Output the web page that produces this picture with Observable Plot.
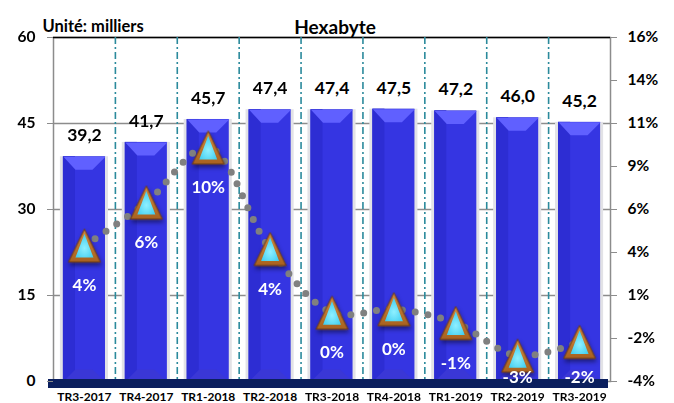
<!DOCTYPE html>
<html><head><meta charset="utf-8">
<script src="https://cdn.jsdelivr.net/npm/d3@7"></script>
<script src="https://cdn.jsdelivr.net/npm/@observablehq/plot@0.6"></script>
<style>html,body{margin:0;padding:0;background:#fff} svg{display:block}</style>
</head><body><div id="chart"></div>
<script>
// ---- data ----
const categories = ["TR3-2017","TR4-2017","TR1-2018","TR2-2018","TR3-2018","TR4-2018","TR1-2019","TR2-2019","TR3-2019"];
const volumes = [39.2, 41.7, 45.7, 47.4, 47.4, 47.5, 47.2, 46.0, 45.2];
const growth = [3.9, 6.4, 9.6, 3.7, 0.0, 0.2, -0.6, -2.5, -1.7];
const growthLabels = ["4%","6%","10%","4%","0%","0%","-1%","-3%","-2%"];
const leftTicks = [0, 15, 30, 45, 60];
const rightTickValues = [-4, -1.5, 1, 3.5, 6, 8.5, 11, 13.5, 16];
const rightTickLabels = ["-4%","-2%","1%","4%","6%","9%","11%","14%","16%"];
const title = "Hexabyte";
const unitLabel = "Unité: milliers";

// ---- layout ----
const W = 674, H = 403;
const mL = 53, mR = 64, mT = 37, mB = 22;
const leftMax = 60, rMin = -4, rMax = 16;
const toLeft = g => (g - rMin) / (rMax - rMin) * leftMax;
const step = (W - mL - mR) / categories.length;
const FONT = "Lato, 'Open Sans', sans-serif";

const rows = categories.map((c, i) => ({
  cat: c, v: volumes[i], g: growth[i], gl: growthLabels[i],
  vl: volumes[i].toFixed(1).replace(".", ",")
}));
const rightMap = new Map(rightTickValues.map((v, i) => [toLeft(v), rightTickLabels[i]]));

// custom symbols (shapes in pixels, positioned by scales)
const bevelTop = {draw(ctx) { ctx.moveTo(-21, 0); ctx.lineTo(21, 0); ctx.lineTo(8, 13); ctx.lineTo(-9, 13); ctx.closePath(); }};
const bevelBottom = {draw(ctx) { ctx.moveTo(-9, -12); ctx.lineTo(8, -12); ctx.lineTo(21, 0); ctx.lineTo(-21, 0); ctx.closePath(); }};
const triOuter = {draw(ctx) { ctx.moveTo(0, -16.5); ctx.lineTo(16, 16.5); ctx.lineTo(-16, 16.5); ctx.closePath(); }};
const triInner = {draw(ctx) { ctx.moveTo(0, -11.5); ctx.lineTo(9, 12); ctx.lineTo(-9, 12); ctx.closePath(); }};

const plot = Plot.plot({
  width: W, height: H,
  marginLeft: mL, marginRight: mR, marginTop: mT, marginBottom: mB,
  style: {fontFamily: FONT, background: "#fff"},
  x: {domain: categories, paddingInner: 0.32, paddingOuter: 0.16, round: false, axis: null},
  y: {domain: [0, leftMax], axis: null},
  marks: [
    Plot.frame({stroke: "#8c8c8c", strokeWidth: 1.5}),
    Plot.ruleY(leftTicks.filter(t => t > 0 && t < leftMax), {stroke: "#8c8c8c", strokeWidth: 1.5}),
    Plot.ruleY([leftMax], {stroke: "#000", strokeWidth: 1.5}),
    Plot.ruleX(categories.slice(0, -1), {dx: step / 2, stroke: "#2b8a9c", strokeWidth: 1.6, strokeDasharray: "7,3,2,3"}),
    // bar side shadow
    Plot.barY(rows, {x: "cat", y: "v", fill: "#e2e2e6", insetLeft: -3, insetRight: -3}),
    // bar body
    Plot.barY(rows, {x: "cat", y: "v", fill: "#3535e2"}),
    Plot.barY(rows, {x: "cat", y: "v", fill: "#2d2dd3", insetRight: 30}),
    Plot.dot(rows, {x: "cat", y: 0, symbol: bevelBottom, fill: "#3a37d6", stroke: "none"}),
    Plot.dot(rows, {x: "cat", y: "v", symbol: bevelTop, fill: "#6060ff", stroke: "none"}),
    // navy base band
    Plot.ruleY([0], {stroke: "#0b1f5e", strokeWidth: 9, dy: 2, insetLeft: -5, insetRight: 2}),
    // growth dotted smooth line
    Plot.line(rows, {x: "cat", y: d => toLeft(d.g), curve: "catmull-rom", stroke: "#808080",
      strokeWidth: 7, strokeDasharray: "0,13", strokeLinecap: "round"}),
    // triangles
    Plot.dot(rows, {x: "cat", y: d => toLeft(d.g), symbol: triOuter, fill: "url(#gradBrown)", stroke: "#6b3a12", strokeWidth: 1}),
    Plot.dot(rows, {x: "cat", y: d => toLeft(d.g), symbol: triInner, fill: "url(#gradCyan)", stroke: "none"}),
    // growth labels
    Plot.text(rows, {x: "cat", y: d => Math.max(toLeft(d.g) - 7, 0.7), text: "gl", fill: "#fff",
      fontSize: 17, fontWeight: "bold", fontFamily: FONT}),
    // value labels
    Plot.text(rows, {x: "cat", y: "v", dy: -21, text: "vl", fill: "#000", fontSize: 17.5, fontWeight: "bold", fontFamily: FONT}),
    // titles
    Plot.text([title], {frameAnchor: "top", text: d => d, dx: 3, dy: -17, fontSize: 19, fontWeight: "bold", fill: "#000", fontFamily: FONT}),
    Plot.text([unitLabel], {frameAnchor: "top-left", text: d => d, textAnchor: "start", dx: -11, dy: -17, fontSize: 16.5, fontWeight: "bold", fill: "#000", fontFamily: FONT}),
    // axes
    Plot.axisY({anchor: "left", ticks: leftTicks, tickSize: 6, tickPadding: 12, stroke: "#8c8c8c", fill: "#000",
      fontSize: 15.5, fontWeight: "bold", label: null, tickFormat: d => String(d)}),
    Plot.axisY({anchor: "right", ticks: rightTickValues.map(toLeft), tickSize: 6, tickPadding: 11, stroke: "#8c8c8c", fill: "#000",
      fontSize: 15.5, fontWeight: "bold", label: null, tickFormat: d => rightMap.get(d)}),
    Plot.axisX({anchor: "bottom", tickSize: 0, tickPadding: 11, fill: "#000", fontSize: 12, fontWeight: "bold", label: null})
  ]
});

document.getElementById("chart").appendChild(plot);

// gradients & shadow
const svg = d3.select(plot);
const defs = svg.insert("defs", ":first-child");
const gb = defs.append("linearGradient").attr("id", "gradBrown").attr("x1", 0).attr("y1", 0).attr("x2", 0).attr("y2", 1);
gb.append("stop").attr("offset", "0%").attr("stop-color", "#d28a3e");
gb.append("stop").attr("offset", "100%").attr("stop-color", "#a8621f");
const gc = defs.append("radialGradient").attr("id", "gradCyan").attr("cx", "50%").attr("cy", "60%").attr("r", "60%");
gc.append("stop").attr("offset", "0%").attr("stop-color", "#8ff0ff");
gc.append("stop").attr("offset", "100%").attr("stop-color", "#3fcdf0");
const f = defs.append("filter").attr("id", "shadow").attr("x", "-50%").attr("y", "-50%").attr("width", "200%").attr("height", "200%");
f.append("feDropShadow").attr("dx", 1).attr("dy", 3).attr("stdDeviation", 2).attr("flood-color", "#000").attr("flood-opacity", 0.45);
svg.selectAll('[fill="url(#gradBrown)"]').attr("filter", "url(#shadow)");
</script>
</body></html>
